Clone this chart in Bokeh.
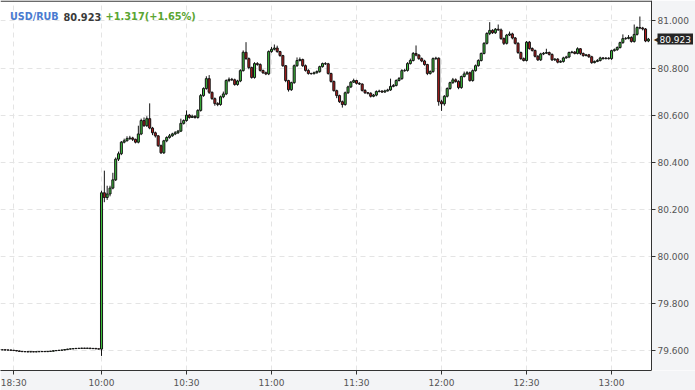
from bokeh.plotting import figure
from bokeh.models import (FixedTicker, Label, ColumnDataSource, PrintfTickFormatter,
                          LinearAxis, BoxAnnotation)
from bokeh.embed import file_html
from bokeh.resources import INLINE

# ---- data: 1-minute candles, previous session tail (18:25-19:00) and today (10:00-13:13)
pre_open = [79.604, 79.603, 79.603, 79.602, 79.602, 79.601, 79.600, 79.598, 79.596, 79.595, 79.595, 79.594,
            79.595, 79.594, 79.595, 79.595, 79.596, 79.595, 79.596, 79.597, 79.599, 79.600, 79.601, 79.602,
            79.604, 79.606, 79.607, 79.608, 79.609, 79.609, 79.610, 79.609, 79.610, 79.608, 79.609, 79.607]
pre_high = [79.605, 79.604, 79.604, 79.603, 79.603, 79.602, 79.601, 79.599, 79.597, 79.596, 79.596, 79.596,
            79.596, 79.596, 79.596, 79.597, 79.597, 79.597, 79.598, 79.600, 79.601, 79.602, 79.603, 79.605,
            79.607, 79.608, 79.609, 79.610, 79.611, 79.611, 79.611, 79.611, 79.611, 79.610, 79.610, 79.608]
pre_low = [79.602, 79.602, 79.601, 79.601, 79.600, 79.599, 79.597, 79.595, 79.594, 79.594, 79.593, 79.593,
           79.593, 79.593, 79.594, 79.594, 79.594, 79.594, 79.595, 79.596, 79.598, 79.599, 79.600, 79.601,
           79.603, 79.605, 79.606, 79.607, 79.608, 79.608, 79.608, 79.608, 79.607, 79.607, 79.606, 79.605]
pre_close = [79.603, 79.603, 79.602, 79.602, 79.601, 79.600, 79.598, 79.596, 79.595, 79.595, 79.594, 79.595,
             79.594, 79.595, 79.595, 79.596, 79.595, 79.596, 79.597, 79.599, 79.600, 79.601, 79.602, 79.604,
             79.606, 79.607, 79.608, 79.609, 79.609, 79.610, 79.609, 79.610, 79.608, 79.609, 79.607, 79.606]

day_open = [79.606, 80.270, 80.250, 80.265, 80.290, 80.325, 80.413, 80.436, 80.485, 80.491,
            80.500, 80.503, 80.497, 80.485, 80.520, 80.577, 80.555, 80.585, 80.545, 80.525,
            80.512, 80.470, 80.440, 80.491, 80.505, 80.512, 80.520, 80.525, 80.532, 80.565,
            80.577, 80.600, 80.590, 80.595, 80.590, 80.620, 80.683, 80.713, 80.755, 80.697,
            80.670, 80.649, 80.645, 80.678, 80.690, 80.747, 80.752, 80.750, 80.730, 80.745,
            80.789, 80.867, 80.840, 80.802, 80.760, 80.819, 80.815, 80.790, 80.780, 80.775,
            80.870, 80.880, 80.885, 80.870, 80.853, 80.810, 80.747, 80.708, 80.738, 80.810,
            80.832, 80.836, 80.810, 80.790, 80.777, 80.776, 80.780, 80.785, 80.806, 80.819,
            80.818, 80.777, 80.743, 80.704, 80.683, 80.657, 80.645, 80.695, 80.720, 80.740,
            80.747, 80.735, 80.732, 80.705, 80.695, 80.693, 80.680, 80.685, 80.700, 80.702,
            80.698, 80.703, 80.707, 80.722, 80.726, 80.747, 80.755, 80.789, 80.790, 80.819,
            80.832, 80.862, 80.855, 80.840, 80.830, 80.815, 80.777, 80.785, 80.840, 80.842,
            80.657, 80.648, 80.680, 80.713, 80.738, 80.750, 80.743, 80.717, 80.764, 80.775,
            80.780, 80.747, 80.789, 80.810, 80.832, 80.862, 80.905, 80.947, 80.960, 80.950,
            80.965, 80.962, 80.925, 80.905, 80.940, 80.945, 80.928, 80.905, 80.866, 80.840,
            80.832, 80.910, 80.883, 80.875, 80.850, 80.835, 80.860, 80.863, 80.866, 80.858,
            80.835, 80.838, 80.825, 80.828, 80.843, 80.847, 80.866, 80.868, 80.862, 80.882,
            80.862, 80.853, 80.856, 80.848, 80.823, 80.828, 80.832, 80.843, 80.840, 80.842,
            80.840, 80.874, 80.878, 80.887, 80.908, 80.925, 80.926, 80.930, 80.913, 80.943,
            80.972, 80.970, 80.966, 80.915]
day_high = [80.279, 80.364, 80.300, 80.300, 80.355, 80.420, 80.445, 80.490, 80.500, 80.510,
            80.512, 80.508, 80.500, 80.555, 80.585, 80.590, 80.595, 80.650, 80.550, 80.530,
            80.515, 80.475, 80.495, 80.510, 80.520, 80.525, 80.532, 80.537, 80.585, 80.582,
            80.620, 80.605, 80.602, 80.600, 80.625, 80.690, 80.718, 80.765, 80.770, 80.700,
            80.675, 80.655, 80.683, 80.700, 80.752, 80.760, 80.758, 80.755, 80.750, 80.795,
            80.875, 80.910, 80.845, 80.806, 80.825, 80.825, 80.820, 80.793, 80.785, 80.875,
            80.890, 80.900, 80.895, 80.873, 80.856, 80.813, 80.750, 80.742, 80.815, 80.845,
            80.845, 80.840, 80.815, 80.795, 80.780, 80.785, 80.790, 80.810, 80.823, 80.825,
            80.822, 80.780, 80.747, 80.708, 80.687, 80.662, 80.700, 80.725, 80.745, 80.755,
            80.750, 80.740, 80.735, 80.710, 80.698, 80.697, 80.690, 80.705, 80.708, 80.706,
            80.708, 80.712, 80.755, 80.732, 80.752, 80.762, 80.795, 80.797, 80.825, 80.840,
            80.868, 80.896, 80.860, 80.845, 80.835, 80.818, 80.790, 80.845, 80.848, 80.845,
            80.665, 80.685, 80.718, 80.742, 80.758, 80.756, 80.748, 80.768, 80.785, 80.787,
            80.785, 80.794, 80.815, 80.837, 80.866, 80.910, 80.952, 80.995, 80.965, 80.970,
            80.985, 80.968, 80.930, 80.945, 80.955, 80.950, 80.932, 80.910, 80.870, 80.845,
            80.915, 80.915, 80.888, 80.878, 80.855, 80.865, 80.868, 80.882, 80.870, 80.862,
            80.842, 80.842, 80.833, 80.848, 80.852, 80.870, 80.873, 80.872, 80.888, 80.885,
            80.866, 80.860, 80.860, 80.852, 80.832, 80.838, 80.848, 80.847, 80.847, 80.846,
            80.878, 80.883, 80.892, 80.912, 80.943, 80.932, 80.940, 80.935, 80.985, 80.977,
            81.019, 80.975, 80.970, 80.928]
day_low = [79.577, 80.230, 80.240, 80.255, 80.285, 80.320, 80.405, 80.430, 80.480, 80.488,
           80.495, 80.490, 80.480, 80.480, 80.515, 80.550, 80.550, 80.540, 80.515, 80.505,
           80.465, 80.435, 80.435, 80.485, 80.500, 80.508, 80.515, 80.520, 80.528, 80.560,
           80.572, 80.585, 80.588, 80.585, 80.585, 80.615, 80.678, 80.708, 80.690, 80.665,
           80.640, 80.638, 80.640, 80.672, 80.685, 80.740, 80.745, 80.725, 80.725, 80.740,
           80.785, 80.835, 80.795, 80.755, 80.755, 80.810, 80.785, 80.775, 80.770, 80.770,
           80.865, 80.875, 80.865, 80.848, 80.805, 80.740, 80.700, 80.703, 80.733, 80.805,
           80.828, 80.805, 80.785, 80.772, 80.772, 80.773, 80.776, 80.780, 80.802, 80.813,
           80.772, 80.738, 80.700, 80.672, 80.652, 80.632, 80.640, 80.690, 80.715, 80.737,
           80.730, 80.728, 80.700, 80.690, 80.688, 80.675, 80.676, 80.680, 80.697, 80.694,
           80.695, 80.700, 80.703, 80.718, 80.722, 80.743, 80.750, 80.784, 80.785, 80.815,
           80.828, 80.850, 80.835, 80.825, 80.810, 80.770, 80.772, 80.780, 80.835, 80.640,
           80.618, 80.640, 80.675, 80.708, 80.733, 80.738, 80.710, 80.712, 80.760, 80.772,
           80.742, 80.742, 80.785, 80.806, 80.828, 80.858, 80.900, 80.940, 80.945, 80.945,
           80.958, 80.920, 80.898, 80.900, 80.936, 80.922, 80.900, 80.860, 80.835, 80.828,
           80.828, 80.878, 80.870, 80.845, 80.830, 80.830, 80.855, 80.860, 80.853, 80.830,
           80.830, 80.820, 80.822, 80.823, 80.840, 80.842, 80.862, 80.858, 80.858, 80.855,
           80.848, 80.850, 80.843, 80.818, 80.820, 80.825, 80.828, 80.836, 80.837, 80.836,
           80.835, 80.870, 80.873, 80.883, 80.903, 80.920, 80.922, 80.908, 80.908, 80.938,
           80.965, 80.960, 80.910, 80.910]
day_close = [80.270, 80.250, 80.265, 80.290, 80.325, 80.413, 80.436, 80.485, 80.491, 80.500,
             80.503, 80.497, 80.485, 80.520, 80.577, 80.555, 80.585, 80.545, 80.525, 80.512,
             80.470, 80.440, 80.491, 80.505, 80.512, 80.520, 80.525, 80.532, 80.565, 80.577,
             80.600, 80.590, 80.595, 80.590, 80.620, 80.683, 80.713, 80.755, 80.697, 80.670,
             80.649, 80.645, 80.678, 80.690, 80.747, 80.752, 80.750, 80.730, 80.745, 80.789,
             80.867, 80.840, 80.802, 80.760, 80.819, 80.815, 80.790, 80.780, 80.775, 80.870,
             80.880, 80.885, 80.870, 80.853, 80.810, 80.747, 80.708, 80.738, 80.810, 80.832,
             80.836, 80.810, 80.790, 80.777, 80.776, 80.780, 80.785, 80.806, 80.819, 80.818,
             80.777, 80.743, 80.704, 80.683, 80.657, 80.645, 80.695, 80.720, 80.740, 80.747,
             80.735, 80.732, 80.705, 80.695, 80.693, 80.680, 80.685, 80.700, 80.702, 80.698,
             80.703, 80.707, 80.722, 80.726, 80.747, 80.755, 80.789, 80.790, 80.819, 80.832,
             80.862, 80.855, 80.840, 80.830, 80.815, 80.777, 80.785, 80.840, 80.842, 80.657,
             80.648, 80.680, 80.713, 80.738, 80.750, 80.743, 80.717, 80.764, 80.775, 80.780,
             80.747, 80.789, 80.810, 80.832, 80.862, 80.905, 80.947, 80.960, 80.950, 80.965,
             80.962, 80.925, 80.905, 80.940, 80.945, 80.928, 80.905, 80.866, 80.840, 80.832,
             80.910, 80.883, 80.875, 80.850, 80.835, 80.860, 80.863, 80.866, 80.858, 80.835,
             80.838, 80.825, 80.828, 80.843, 80.847, 80.866, 80.868, 80.862, 80.882, 80.862,
             80.853, 80.856, 80.848, 80.823, 80.828, 80.832, 80.843, 80.840, 80.842, 80.840,
             80.874, 80.878, 80.887, 80.908, 80.925, 80.926, 80.930, 80.913, 80.943, 80.972,
             80.970, 80.966, 80.915, 80.923]

tick_labels = ["18:30", "10:00", "10:30", "11:00", "11:30", "12:00", "12:30", "13:00"]
y_ticks = [79.6, 79.8, 80.0, 80.2, 80.4, 80.6, 80.8, 81.0]

symbol = "USD/RUB"
last_price = "80.923"
change_text = "+1.317(+1.65%)"

# ---- assemble
times = ["18:%02d" % mm for mm in range(25, 60)] + ["19:00"] + \
        ["%d:%02d" % (10 + mm // 60, mm % 60) for mm in range(len(day_open))]
opens = pre_open + day_open
highs = pre_high + day_high
lows = pre_low + day_low
closes = pre_close + day_close
idx = list(range(len(times)))

GREEN = "#3cbf3c"
RED = "#b31b1b"
PANEL = "#f3f4f6"
colors = [GREEN if c >= o else RED for o, c in zip(opens, closes)]
src = ColumnDataSource(dict(x=idx, o=opens, h=highs, l=lows, c=closes,
                            top=[max(o, c) for o, c in zip(opens, closes)],
                            bot=[min(o, c) for o, c in zip(opens, closes)],
                            col=colors))

# plotting area: 651 px of candles, price scale drawn inside the frame at its right edge
PXW = 2.8335                      # px per candle slot
x0 = 0.35
x_edge = x0 + 651 / PXW           # where the price scale sits
x1 = x0 + 695 / PXW
y0, y1 = 79.515, 81.087
py = (y1 - y0) / 370.0
px = (x1 - x0) / 695.0

p = figure(width=695, height=390, x_range=(x0, x1), y_range=(y0, y1),
           output_backend="svg", toolbar_location=None, y_axis_location=None,
           min_border_left=0, min_border_top=0, min_border_right=0, min_border_bottom=20)
p.background_fill_color = "white"
p.border_fill_color = PANEL
p.outline_line_color = None

# grids (dashed)
tick_pos = [times.index(t) for t in tick_labels]
p.xgrid.ticker = FixedTicker(ticks=tick_pos)
p.ygrid.ticker = FixedTicker(ticks=y_ticks)
for g in (p.xgrid[0], p.ygrid[0]):
    g.grid_line_color = "#e4e4e4"
    g.grid_line_dash = "5 4"
    g.grid_line_width = 1

# candles
p.segment(x0="x", y0="l", x1="x", y1="h", source=src, line_color="#151515", line_width=1)
p.vbar(x="x", width=0.72, top="top", bottom="bot", source=src,
       fill_color="col", line_color="#151515", line_width=1)

# grey price-scale panel on the right
p.add_layout(BoxAnnotation(left=x_edge, fill_color=PANEL, fill_alpha=1.0, line_color=None, level="glyph"))
# thin dark rule along the top of the chart
p.add_layout(BoxAnnotation(right=x_edge, bottom=y1 - 1.2 * py, fill_color="#3a3a3a", fill_alpha=1.0,
                           line_color=None, level="glyph"))

# x axis
p.xaxis.ticker = FixedTicker(ticks=tick_pos)
p.xaxis.major_label_overrides = {tp: lab for tp, lab in zip(tick_pos, tick_labels)}
p.xaxis.bounds = (x0, x_edge)

# price axis at the right edge of the candle area
yax = LinearAxis(fixed_location=x_edge, ticker=FixedTicker(ticks=y_ticks),
                 formatter=PrintfTickFormatter(format="%.3f"))
p.add_layout(yax, "right")

for ax in (p.xaxis[0], yax):
    ax.axis_line_color = "#333333"
    ax.major_tick_line_color = "#333333"
    ax.major_tick_in = 0
    ax.major_tick_out = 4
    ax.minor_tick_line_color = None
    ax.major_label_text_font = "DejaVu Sans"
    ax.major_label_text_font_size = "9px"
    ax.major_label_text_color = "#555555"
p.xaxis.major_label_standoff = 3
yax.major_label_standoff = 2

# header
ty = y1 - 16 * py
p.add_layout(Label(x=x0 + 9.5 * px, y=ty, text=symbol, text_font="DejaVu Sans", text_font_style="bold",
                   text_font_size="9.6px", text_color="#4a7bd0", text_baseline="alphabetic"))
p.add_layout(Label(x=x0 + 63 * px, y=ty, text=last_price, text_font="DejaVu Sans", text_font_style="bold",
                   text_font_size="9.8px", text_color="#3a3a3a", text_baseline="alphabetic"))
p.add_layout(Label(x=x0 + 105 * px, y=ty, text=change_text, text_font="DejaVu Sans", text_font_style="bold",
                   text_font_size="9.8px", text_color="#5aa532", text_baseline="alphabetic"))

# last price tag on the price scale
last = closes[-1]
p.add_layout(Label(x=x_edge + 6 * px, y=last, text=last_price, text_font="DejaVu Sans",
                   text_font_size="9px", text_color="white", text_baseline="middle",
                   background_fill_color="#262626", padding=2))
p.add_layout(Label(x=x_edge + 8.5 * px, y=last, text="\u25c0", text_font="DejaVu Sans",
                   text_font_size="8px", text_color="#262626", text_baseline="middle", text_align="right"))

open("out.html", "w").write(file_html(p, INLINE))
